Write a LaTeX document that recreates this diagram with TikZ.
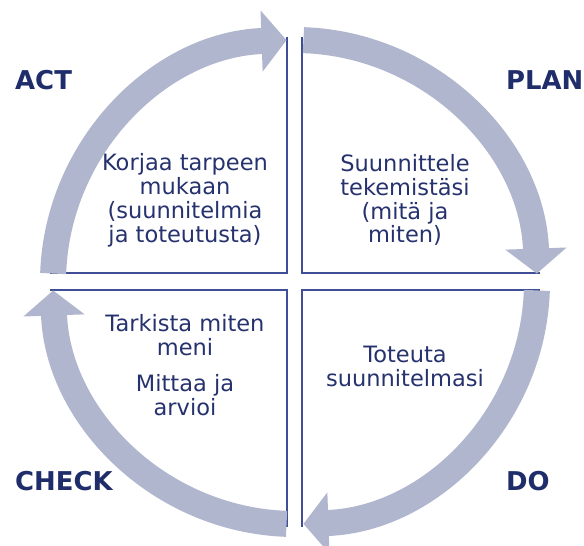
\documentclass[tikz,border=0pt]{standalone}
\usepackage{fontspec}
\setmainfont{DejaVu Sans}
\usetikzlibrary{arrows.meta}
\definecolor{cycleblue}{HTML}{B0B6CE}
\definecolor{edgeblue}{HTML}{3F4E96}
\definecolor{textblue}{HTML}{26326E}
\definecolor{labelblue}{HTML}{1F2D6B}

\begin{document}
\begin{tikzpicture}[x=1bp, y=1bp,
    cyclearrow/.style={line width=26bp, cycleblue, -{Triangle[width=60bp, length=25bp]}},
    boxedge/.style={edgeblue, line width=2bp},
    phase/.style={font=\fontsize{26}{30}\selectfont\bfseries, text=labelblue, anchor=base west, inner sep=0pt},
    boxtext/.style={font=\fontsize{22.6}{24}\selectfont, text=textblue, align=center, inner sep=0pt}]
    \useasboundingbox (-295,-264) rectangle (289,282);

    % Quadrant edges
    \draw[boxedge] (-8,245) -- (-8,9) -- (-245,9);
    \draw[boxedge] (7,245) -- (7,9) -- (245,9);
    \draw[boxedge] (245,-8) -- (7,-8) -- (7,-245);
    \draw[boxedge] (-245,-8) -- (-8,-8) -- (-8,-245);

    % Cycle arrows
    \draw[cyclearrow] (178:242) arc[start angle=178, end angle=92, radius=242];
    \draw[cyclearrow] (88:242) arc[start angle=88, end angle=2, radius=242];
    \draw[cyclearrow] (-2:242) arc[start angle=-2, end angle=-88, radius=242];
    \draw[cyclearrow] (-92:242) arc[start angle=-92, end angle=-178, radius=242];

    % Phase names
    \node[phase] (act) at (-280,192) {ACT};
    \node[phase] (plan) at (211,192) {PLAN};
    \node[phase] (do) at (211,-208) {DO};
    \node[phase] (check) at (-280,-208) {CHECK};

    % Texts in the quadrants
    \node[boxtext] (acttext) at (-110,82) {Korjaa tarpeen\\mukaan\\(suunnitelmia\\ja toteutusta)};
    \node[boxtext] (plantext) at (110,82) {Suunnittele\\tekemistäsi\\(mitä ja\\miten)};
    \node[boxtext] (dotext) at (110,-84) {Toteuta\\suunnitelmasi};
    \node[boxtext] (checktext) at (-110,-83) {Tarkista miten\\meni\\[12bp]Mittaa ja\\arvioi};
\end{tikzpicture}
\end{document}
